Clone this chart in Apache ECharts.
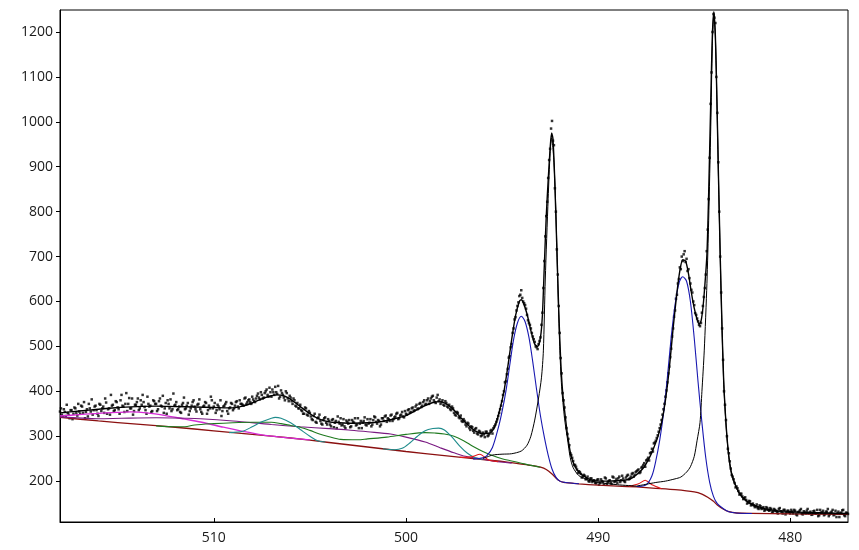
<!DOCTYPE html>
<html>
<head>
<meta charset="utf-8">
<script src="https://cdn.jsdelivr.net/npm/echarts@6/dist/echarts.min.js"></script>
<style>
html,body{margin:0;padding:0;background:#fff;}
#chart{width:859px;height:550px;}
</style>
</head>
<body>
<div id="chart"></div>
<script>
// ---- tick labels ----
const xTicks = [480, 490, 500, 510];
const yTicks = [200, 300, 400, 500, 600, 700, 800, 900, 1000, 1100, 1200];

// ---- measured counts, grid A: 518.0 -> 477.0 eV, step 0.1 ----
const countsAStart = 518.0;
const countsStep = 0.1;
const countsA = [
  355,348,360,345,352,340,358,350,362,346,
  355,368,352,340,360,372,355,348,366,358,
  345,370,362,352,375,360,348,368,356,378,
  364,350,392,366,372,356,385,362,348,370,
  376,358,380,392,365,350,372,368,356,378,
  372,360,384,366,352,374,380,362,356,395,
  370,358,366,352,374,360,368,348,362,376,
  366,355,372,360,350,368,374,358,362,380,
  366,352,370,360,345,366,372,356,362,374,
  358,368,378,362,372,370,384,372,380,376,
  388,378,384,395,382,392,386,400,392,408,
  388,398,410,394,384,402,392,380,396,378,
  386,372,380,366,362,370,356,350,362,346,
  352,338,345,332,340,348,328,336,342,326,
  334,322,338,330,318,332,340,326,322,335,
  328,320,336,330,324,340,328,318,334,326,
  338,330,322,336,342,328,334,326,340,344,
  332,338,346,334,342,350,338,346,354,342,
  350,358,352,362,356,366,360,372,365,376,
  370,380,372,384,390,376,386,378,372,380,
  368,374,364,360,366,352,346,352,340,334,
  338,326,330,318,322,312,316,306,312,300,
  308,298,310,302,312,306,322,332,345,360,
  378,400,422,450,478,505,540,565,590,612,
  625,600,592,570,552,540,522,510,498,505,
  520,575,690,790,875,940,1002,948,800,660,
  530,440,380,342,305,280,258,245,236,226,
  222,216,210,212,205,200,206,198,202,195,
  204,196,200,192,206,198,202,194,208,200,
  196,210,202,206,198,212,204,210,218,214,
  222,226,220,232,240,246,252,262,272,284,
  290,302,318,336,360,388,420,455,495,540,
  580,615,650,672,690,712,695,672,640,620,
  592,570,556,545,575,610,660,760,920,1110,
  1240,1220,1020,800,620,470,370,300,262,228,
  210,196,188,178,172,166,162,158,152,155,
  148,146,144,140,146,138,142,136,140,134,
  138,132,136,130,138,133,128,136,130,134,
  128,132,136,126,131,135,127,133,128,138,
  130,125,133,128,136,124,130,134,126,132,
  122,130,136,126,120,132,128,135,124,130,
  127
];
// ---- measured counts, grid B: 517.95 -> 477.05 eV, step 0.1 ----
const countsBStart = 517.95;
const countsB = [
  362,344,354,370,348,358,338,364,352,372,
  350,366,376,354,344,362,382,358,368,350,
  372,356,366,384,350,362,392,370,358,376,
  360,380,368,354,396,372,362,384,356,370,
  384,362,370,376,358,388,366,354,380,372,
  356,378,368,390,362,350,372,382,360,368,
  376,360,354,370,386,362,374,356,368,380,
  360,370,382,354,366,376,350,368,388,362,
  374,358,366,380,356,368,376,350,364,372,
  362,376,366,380,372,368,386,376,382,372,
  382,376,390,386,398,384,396,404,388,398,
  404,392,398,412,388,396,386,400,384,390,
  378,384,368,374,362,358,350,364,348,356,
  344,336,350,330,342,334,326,340,330,338,
  326,336,320,334,344,328,324,338,318,332,
  336,322,332,340,326,318,334,330,342,324,
  328,338,326,344,332,336,322,340,334,346,
  340,334,348,338,344,352,340,348,344,356,
  348,360,354,364,358,370,362,374,368,380,
  372,384,378,388,380,374,392,382,376,370,
  378,366,370,358,362,348,354,342,346,332,
  334,322,328,314,320,308,318,304,310,302,
  304,310,300,306,314,318,326,338,352,368,
  392,420,438,475,498,530,560,580,598,615,
  608,596,584,558,548,530,516,500,494,512,
  548,630,745,822,915,985,958,852,716,590,
  474,396,364,318,294,262,252,236,232,218,
  220,208,214,204,210,199,206,201,196,203,
  192,204,198,208,194,200,196,210,198,205,
  206,198,212,200,208,214,206,216,210,220,
  224,218,230,236,232,248,246,264,266,286,
  296,310,326,348,372,402,440,476,522,566,
  606,640,676,700,705,688,668,652,626,600,
  574,562,548,552,590,630,712,828,1040,1200,
  1232,1100,910,700,540,400,336,272,244,214,
  204,186,184,170,172,160,164,150,156,146,
  150,142,148,138,144,140,134,142,136,140,
  130,138,134,128,140,132,136,126,134,130,
  136,128,134,124,132,138,126,130,134,128,
  132,126,134,128,122,136,130,124,132,138,
  126,132,124,134,128,120,130,136,122,129
];

// ---- fitted envelope ----
const envelopeE = [518,517,516,515,514,513,512,511,510,509,508.5,508,507.5,507,506.7,506.3,506,505.5,505,504.5,504,503.5,503,502,501.5,501,500.5,500,499.5,499,498.6,498.3,498,497.6,497.2,496.8,496.4,496,495.7,495.5,495.3,495.1,494.9,494.7,494.5,494.3,494.1,494,493.9,493.7,493.5,493.3,493.15,493,492.9,492.8,492.7,492.6,492.5,492.42,492.35,492.25,492.15,492.05,491.95,491.85,491.7,491.55,491.4,491.2,491,490.7,490.4,490,489.5,489,488.5,488.2,487.9,487.6,487.3,487.1,486.9,486.7,486.5,486.3,486.1,485.9,485.75,485.6,485.45,485.3,485.15,485,484.85,484.74,484.65,484.55,484.45,484.34,484.25,484.14,484.06,483.98,483.9,483.82,483.74,483.65,483.56,483.47,483.38,483.3,483.2,483.1,483,482.8,482.6,482.3,482,481.6,481,480,479,478,477];
const envelopeV = [352,356,360,364,366,367,366,365,364,363,367,374,383,390,392,389,382,366,350,338,332,330,329,330,331,335,340,346,357,368,375,377,374,362,344,326,312,306,306,312,330,362,400,455,515,568,600,604,598,572,535,505,500,520,570,680,790,870,940,975,962,860,720,580,470,400,340,290,255,232,220,210,203,200,200,201,203,208,218,232,255,275,298,330,380,450,540,620,668,693,690,662,620,585,560,550,556,585,635,705,840,1048,1190,1245,1190,1048,880,705,550,425,350,300,255,226,208,186,170,157,149,142,136,132,130,129,128];

// ---- Shirley background ----
const bgE = [518,516,514,512,510,508,506,504,502,500,498,496,495,494,493.5,493,492.7,492.4,492.1,491.8,491,490,489,488,487,486,485,484.6,484.3,484,483.8,483.5,483.2,482.8,482,480,477];
const bgV = [342,334,327,320,312,304,296,286,276,266,257,248,244,238,235,231,226,216,203,197,194,191,189,187,184,181,176,171,164,155,147,138,132,129,128,127,126];

// ---- components (each drawn on top of background) ----
const magentaE = [518,517,516,515,514.3,513.5,512.5,511.5,510.5,509.5,508.5,507.5,506.5,505];
const magentaV = [345,348,351,353,354,352,346,338,330,320,311,303,298,292];

const purpleE = [518,516,514.8,513,511.5,510.7,509,507,505.5,504,503,502,500.8,500,499,498.2,497.5,497,496.1,495.5,494.5];
const purpleV = [343,339,340,341,340,339,334,326,321,317,314,310,305,298,287,274,263,256,250,245,240];

const greenE = [513,512,511.5,511,510,509,508,507,506.5,506,505.5,505,504.5,504,503.4,502.5,502,501,500,499,498.5,498,497.5,497,496.5,496,495.5,495,494.5,494,493.5,493];
const greenV = [323,321,321,325,328,330,331,331,328,324,320,313,305,299,293,292,294,298,304,308,307,305,300,290,277,266,257,250,245,240,235,231];

const tealAE = [509.2,508.5,508,507.5,507,506.8,506.5,506,505.5,505,504.6,504.2];
const tealAV = [308,311,321,332,340,342,340,330,315,300,290,287];
const tealBE = [501.2,500.6,500.2,499.8,499.4,499,498.6,498.3,498,497.6,497.2,496.8,496.4,496];
const tealBV = [272,270,273,285,300,312,317,318,314,298,278,262,252,248];

const redAE = [497.2,496.6,496.15,495.7,495.2];
const redAV = [253,254,260,247,243];
const redBE = [488.4,487.9,487.55,487.2,486.7];
const redBV = [188,194,202,192,183];

const blueAE = [496.5,496,495.8,495.5,495.2,495,494.8,494.6,494.4,494.2,494,493.8,493.6,493.4,493.2,493,492.8,492.6,492.4,492.2,492,491.7,491];
const blueAV = [249,252,256,275,318,355,400,458,515,552,567,555,520,465,403,345,298,258,227,209,200,197,194];
const blueBE = [488,487.5,487.2,487,486.8,486.6,486.4,486.2,486,485.8,485.6,485.4,485.2,485,484.8,484.6,484.4,484.2,484,483.8,483.5,483.2,482.8,482];
const blueBV = [188,192,212,245,290,350,430,520,592,640,655,645,600,518,420,330,252,198,166,150,139,132,129,128];

const sharpAE = [496,495.5,495,494.5,494,493.7,493.5,493.3,493.1,492.95,492.85,492.75,492.6,492.5,492.42,492.3,492.2,492.1,492,491.9,491.75,491.6,491.45,491.3,491,490.5,490,489,488];
const sharpAV = [250,258,260,261,267,280,300,336,385,430,490,650,830,930,965,910,800,640,500,410,340,295,252,230,212,202,197,192,189];
const sharpBE = [488,487.5,487,486.5,486,485.7,485.4,485.2,485,484.85,484.7,484.6,484.48,484.34,484.25,484.14,484.06,483.98,483.9,483.82,483.74,483.65,483.56,483.47,483.38,483.3,483.2,483.1,483,482.8,482.6,482.3,482,481.6,481,480,479,477];
const sharpBV = [189,193,197,200,205,209,220,232,255,291,330,400,490,640,780,990,1170,1240,1188,1046,878,703,548,423,348,298,253,224,206,184,168,155,147,140,134,130,128,127];

// ---- build ----
const pairs = (xs, ys) => xs.map((x, i) => [x, ys[i]]);
const gridPairs = (start, vals) => vals.map((v, i) => [+(start - i * countsStep).toFixed(2), v]);
const countPairs = gridPairs(countsAStart, countsA).concat(gridPairs(countsBStart, countsB));

function lineSeries(data, color, width, smooth) {
  return {
    type: 'line', data: data, showSymbol: false, symbol: 'none',
    smooth: smooth, lineStyle: { color: color, width: width }, itemStyle: { color: color },
    animation: false, silent: true
  };
}

const chart = echarts.init(document.getElementById('chart'), null, { renderer: 'canvas' });
const axisFont = { fontFamily: '"Open Sans", "DejaVu Sans", sans-serif', fontSize: 14, color: '#1a1a1a' };

chart.setOption({
  backgroundColor: '#fff',
  animation: false,
  grid: { left: 60, right: 11, top: 10, bottom: 28, show: true, borderColor: '#000', borderWidth: 1, backgroundColor: 'transparent' },
  xAxis: {
    type: 'value', inverse: true, min: 477, max: 518,
    axisLine: { show: true, onZero: false, lineStyle: { color: '#000', width: 1 } },
    axisTick: { show: true, inside: true, length: 4, lineStyle: { color: '#000' }, customValues: xTicks },
    axisLabel: Object.assign({ margin: 9, customValues: xTicks, formatter: v => String(v) }, axisFont),
    splitLine: { show: false }
  },
  yAxis: {
    type: 'value', min: 109, max: 1249,
    axisLine: { show: true, onZero: false, lineStyle: { color: '#000', width: 1 } },
    axisTick: { show: true, inside: false, length: 4, lineStyle: { color: '#000' }, customValues: yTicks },
    axisLabel: Object.assign({ margin: 7, customValues: yTicks, formatter: v => String(v) }, axisFont),
    splitLine: { show: false }
  },
  series: [
    lineSeries(pairs(bgE, bgV), '#8b1010', 1.3, 0.2),
    lineSeries(pairs(magentaE, magentaV), '#d62ad6', 1.3, 0.3),
    lineSeries(pairs(purpleE, purpleV), '#7a1a82', 1.1, 0.3),
    lineSeries(pairs(greenE, greenV), '#1f7a1f', 1.1, 0.3),
    lineSeries(pairs(tealAE, tealAV), '#1f8c8c', 1.1, 0.3),
    lineSeries(pairs(tealBE, tealBV), '#1f8c8c', 1.1, 0.3),
    lineSeries(pairs(redAE, redAV), '#e01818', 1.1, 0.2),
    lineSeries(pairs(redBE, redBV), '#e01818', 1.1, 0.2),
    lineSeries(pairs(blueAE, blueAV), '#1818b0', 1.1, 0.3),
    lineSeries(pairs(blueBE, blueBV), '#1818b0', 1.1, 0.3),
    lineSeries(pairs(sharpAE, sharpAV), '#000000', 1.0, 0.25),
    lineSeries(pairs(sharpBE, sharpBV), '#000000', 1.0, 0.25),
    lineSeries(pairs(envelopeE, envelopeV), '#000000', 1.4, 0.25),
    {
      type: 'scatter', data: countPairs, symbol: 'rect', symbolSize: 2.5,
      itemStyle: { color: '#000' }, animation: false, silent: true
    }
  ]
});
</script>
</body>
</html>
